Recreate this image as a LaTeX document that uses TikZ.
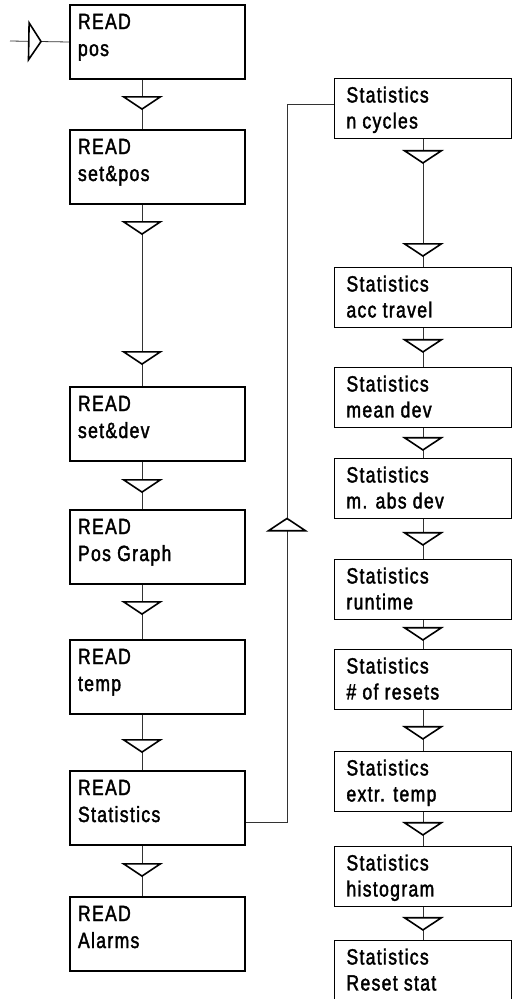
\documentclass[tikz,border=0pt]{standalone}
\usepackage{fontspec}
\setmainfont{Liberation Sans}[FakeBold=1.8,FakeStretch=0.8,LetterSpace=6]
\usetikzlibrary{arrows.meta,decorations.markings}
\tikzset{tri/.tip={Triangle[width=42pt,length=14pt,line width=1.6pt,color=black,fill=white]}}
\newcommand{\ltxt}[2]{\parbox[c][74pt][t]{159pt}{\rule{0pt}{24pt}#1\\#2}}
\newcommand{\rtxt}[2]{\parbox[c][60pt][t]{153pt}{\rule{0pt}{24pt}#1\\#2}}

\begin{document}
\begin{tikzpicture}[
  x=1pt,y=-1pt,
  lbox/.style={draw,line width=2pt,inner xsep=8pt,inner ysep=0pt,anchor=north west,
               font=\fontsize{22}{27}\selectfont},
  rbox/.style={draw,line width=0.9pt,inner xsep=12pt,inner ysep=0pt,anchor=north west,
               font=\fontsize{22}{26}\selectfont},
  ln/.style={draw=black!80,line width=0.8pt},
  flow/.style={postaction={decorate,decoration={markings,mark=at position #1 with {\arrow{tri}}}}}
]
\useasboundingbox (0,0) rectangle (513,999);
% READ column
\node[lbox] (pos)      at (69,4)   {\ltxt{READ}{pos}};
\node[lbox] (setpos)   at (69,129) {\ltxt{READ}{set\&pos}};
\node[lbox] (setdev)   at (69,386) {\ltxt{READ}{set\&dev}};
\node[lbox] (posgraph) at (69,509) {\ltxt{READ}{Pos Graph}};
\node[lbox] (temp)     at (69,639) {\ltxt{READ}{temp}};
\node[lbox] (stats)    at (69,770) {\ltxt{READ}{Statistics}};
\node[lbox] (alarms)   at (69,896) {\ltxt{READ}{Alarms}};
% Statistics column
\node[rbox] (ncyc)    at (334,78)  {\rtxt{Statistics}{n cycles}};
\node[rbox] (acctr)   at (334,267) {\rtxt{Statistics}{acc travel}};
\node[rbox] (meandev) at (334,367) {\rtxt{Statistics}{mean dev}};
\node[rbox] (absdev)  at (334,458) {\rtxt{Statistics}{m. abs dev}};
\node[rbox] (runtime) at (334,559) {\rtxt{Statistics}{runtime}};
\node[rbox] (resets)  at (334,649) {\rtxt{Statistics}{\# of resets}};
\node[rbox] (extemp)  at (334,751) {\rtxt{Statistics}{extr. temp}};
\node[rbox] (histo)   at (334,846) {\rtxt{Statistics}{histogram}};
\node[rbox] (resetst) at (334,940) {\rtxt{Statistics}{Reset stat}};

\coordinate (in) at (10,41);
\coordinate (lx) at (142,0);
\coordinate (fb) at (287,0);
\coordinate (ncin) at ([yshift=4pt]ncyc.west);

% entry
\draw[ln,flow=32pt] (in) -- (pos.west);

% READ chain, trunk left of centre
\draw[ln,flow=30pt,flow=-21pt] (setpos.south -| lx) -- (setdev.north -| lx);
\foreach \a/\b/\d in {pos/setpos/30pt, setdev/posgraph/31pt, posgraph/temp/30pt,
                      temp/stats/38pt, stats/alarms/31pt}
  { \draw[ln,flow=\d] (\a.south -| lx) -- (\b.north -| lx); }

% Statistics chain
\draw[ln,flow=25pt,flow=-10pt] (ncyc.south) -- (acctr.north);
\foreach \a/\b/\d in {acctr/meandev/25pt, meandev/absdev/23pt, absdev/runtime/27pt,
                      runtime/resets/21pt, resets/extemp/30pt, extemp/histo/24pt,
                      histo/resetst/24pt}
  { \draw[ln,flow=\d] (\a.south) -- (\b.north); }

% branch into Statistics
\draw[ln,flow=346pt] ([yshift=-14.5pt]stats.east) -| (fb |- ncin) -- (ncin);
\end{tikzpicture}
\end{document}
